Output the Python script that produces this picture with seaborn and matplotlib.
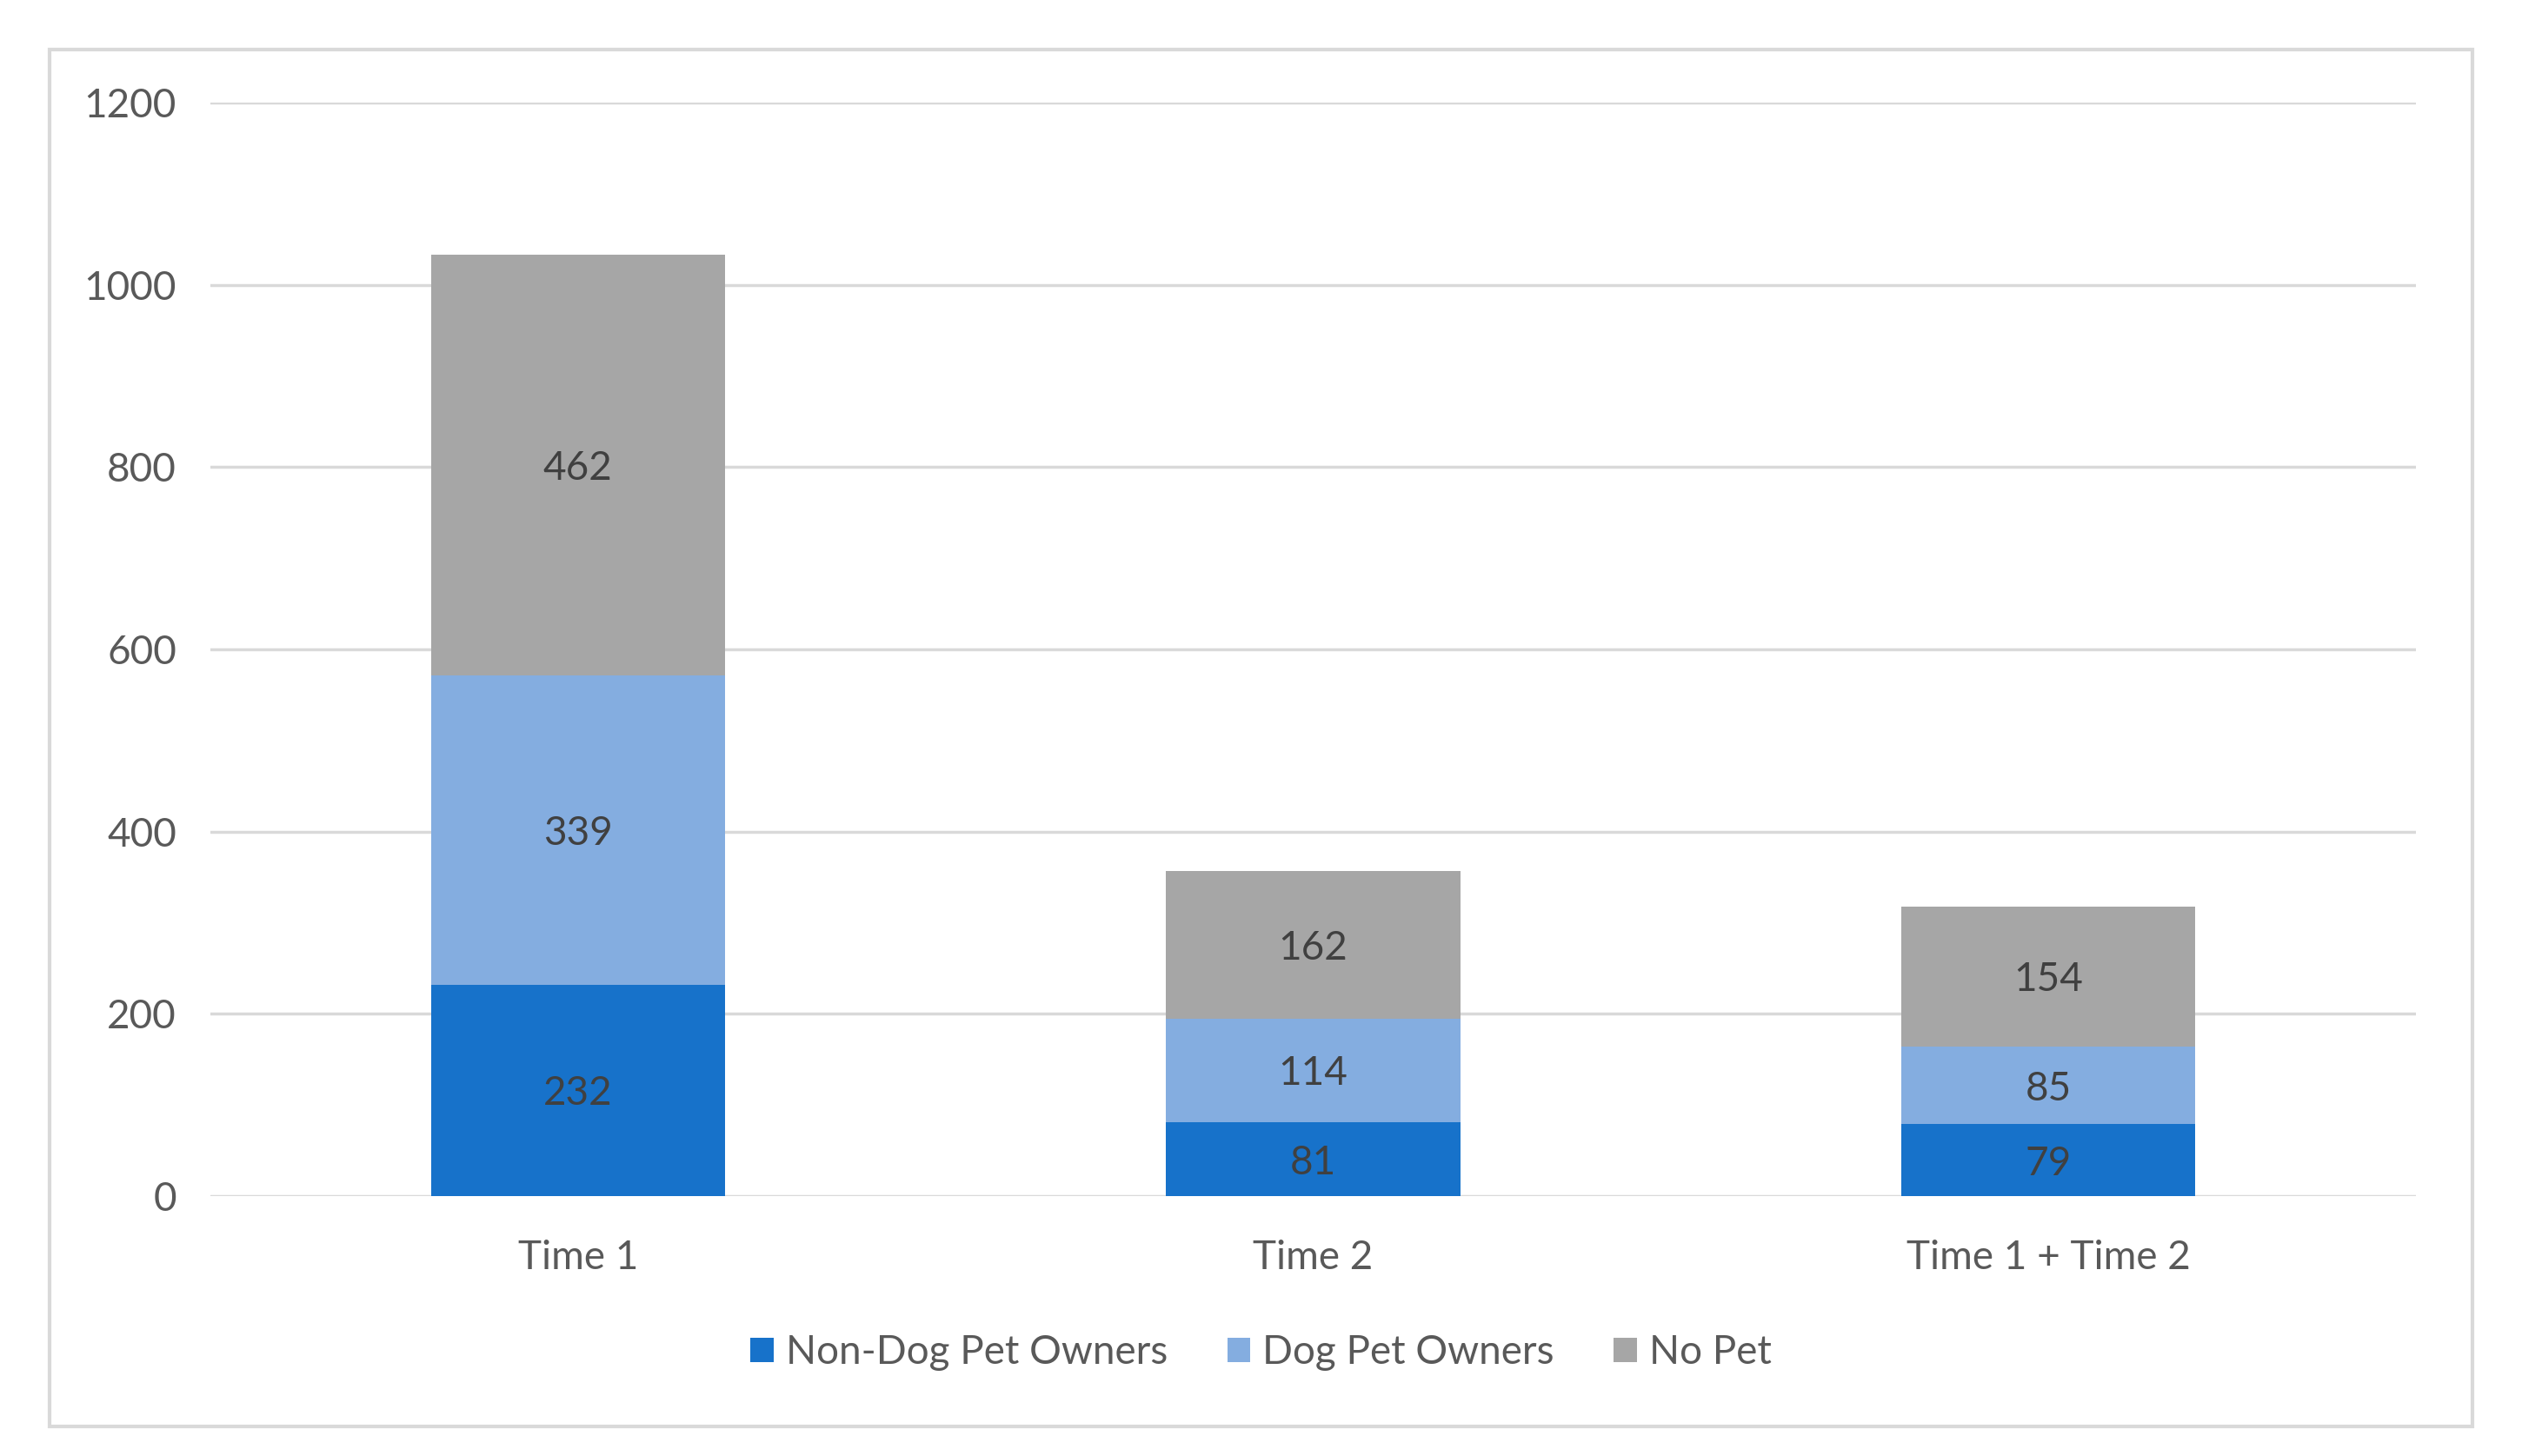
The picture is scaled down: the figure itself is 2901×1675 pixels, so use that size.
import matplotlib
matplotlib.use("Agg")
import matplotlib.pyplot as plt
import seaborn as sns
import pandas as pd
import numpy as np
from matplotlib.patches import Rectangle

categories = ["Time 1", "Time 2", "Time 1 + Time 2"]
non_dog = [232, 81, 79]
dog = [339, 114, 85]
no_pet = [462, 162, 154]
series_names = ["Non-Dog Pet Owners", "Dog Pet Owners", "No Pet"]
colors = ["#1772CA", "#84ADE0", "#A6A6A6"]
y_ticks = [0, 200, 400, 600, 800, 1000, 1200]

sns.set_theme(style="white")
plt.rcParams['font.family'] = ['Lato', 'DejaVu Sans']

df = pd.DataFrame({"category": categories, "non_dog": non_dog, "dog": dog, "no_pet": no_pet})
df["c1"] = df["non_dog"]
df["c2"] = df["non_dog"] + df["dog"]
df["c3"] = df["c2"] + df["no_pet"]

fig = plt.figure(figsize=(29.01, 16.75), dpi=100)
fig.patch.set_facecolor("white")
ax = fig.add_axes([0.0834, 0.1785, 0.8746, 0.7511])

FS = 33
TXT = "#595959"

for col, color in zip(["c3", "c2", "c1"], colors[::-1]):
    sns.barplot(data=df, x="category", y=col, color=color, width=0.4,
                saturation=1, ax=ax, zorder=3, linewidth=0)

ax.set_xlim(-0.5, 2.5)
ax.set_ylim(0, 1200)
ax.set_yticks(y_ticks)
ax.set_yticklabels([str(t) for t in y_ticks])
ax.set_xlabel("")
ax.set_ylabel("")
ax.yaxis.grid(True, color="#D9D9D9", linewidth=2.5, zorder=0)
ax.xaxis.grid(False)
ax.set_axisbelow(True)
for s in ax.spines.values():
    s.set_visible(False)
ax.tick_params(axis="y", length=0, pad=28, labelsize=FS, labelcolor=TXT)
ax.tick_params(axis="x", length=0, pad=36, labelsize=FS, labelcolor=TXT)

# value labels
for i in range(len(categories)):
    segs = [(0, non_dog[i]), (non_dog[i], dog[i]), (non_dog[i] + dog[i], no_pet[i])]
    for b, v in segs:
        ax.text(i, b + v / 2, str(v), ha="center", va="center_baseline",
                fontsize=FS, color="#404040", zorder=5)

handles = [Rectangle((0, 0), 1, 1, facecolor=c, edgecolor="none") for c in colors]
fig.legend(handles, series_names, loc="center", bbox_to_anchor=(0.5, 0.071),
           ncol=3, frameon=False, fontsize=FS, labelcolor=TXT,
           handlelength=0.58, handleheight=0.58, handletextpad=0.3,
           columnspacing=1.5)

border = Rectangle((0.0197, 0.0203), 0.9607, 0.9457, transform=fig.transFigure,
                   fill=False, edgecolor="#D9D9D9", linewidth=3, zorder=0)
fig.patches.append(border)

fig.savefig("out.png", dpi=100, facecolor="white")
